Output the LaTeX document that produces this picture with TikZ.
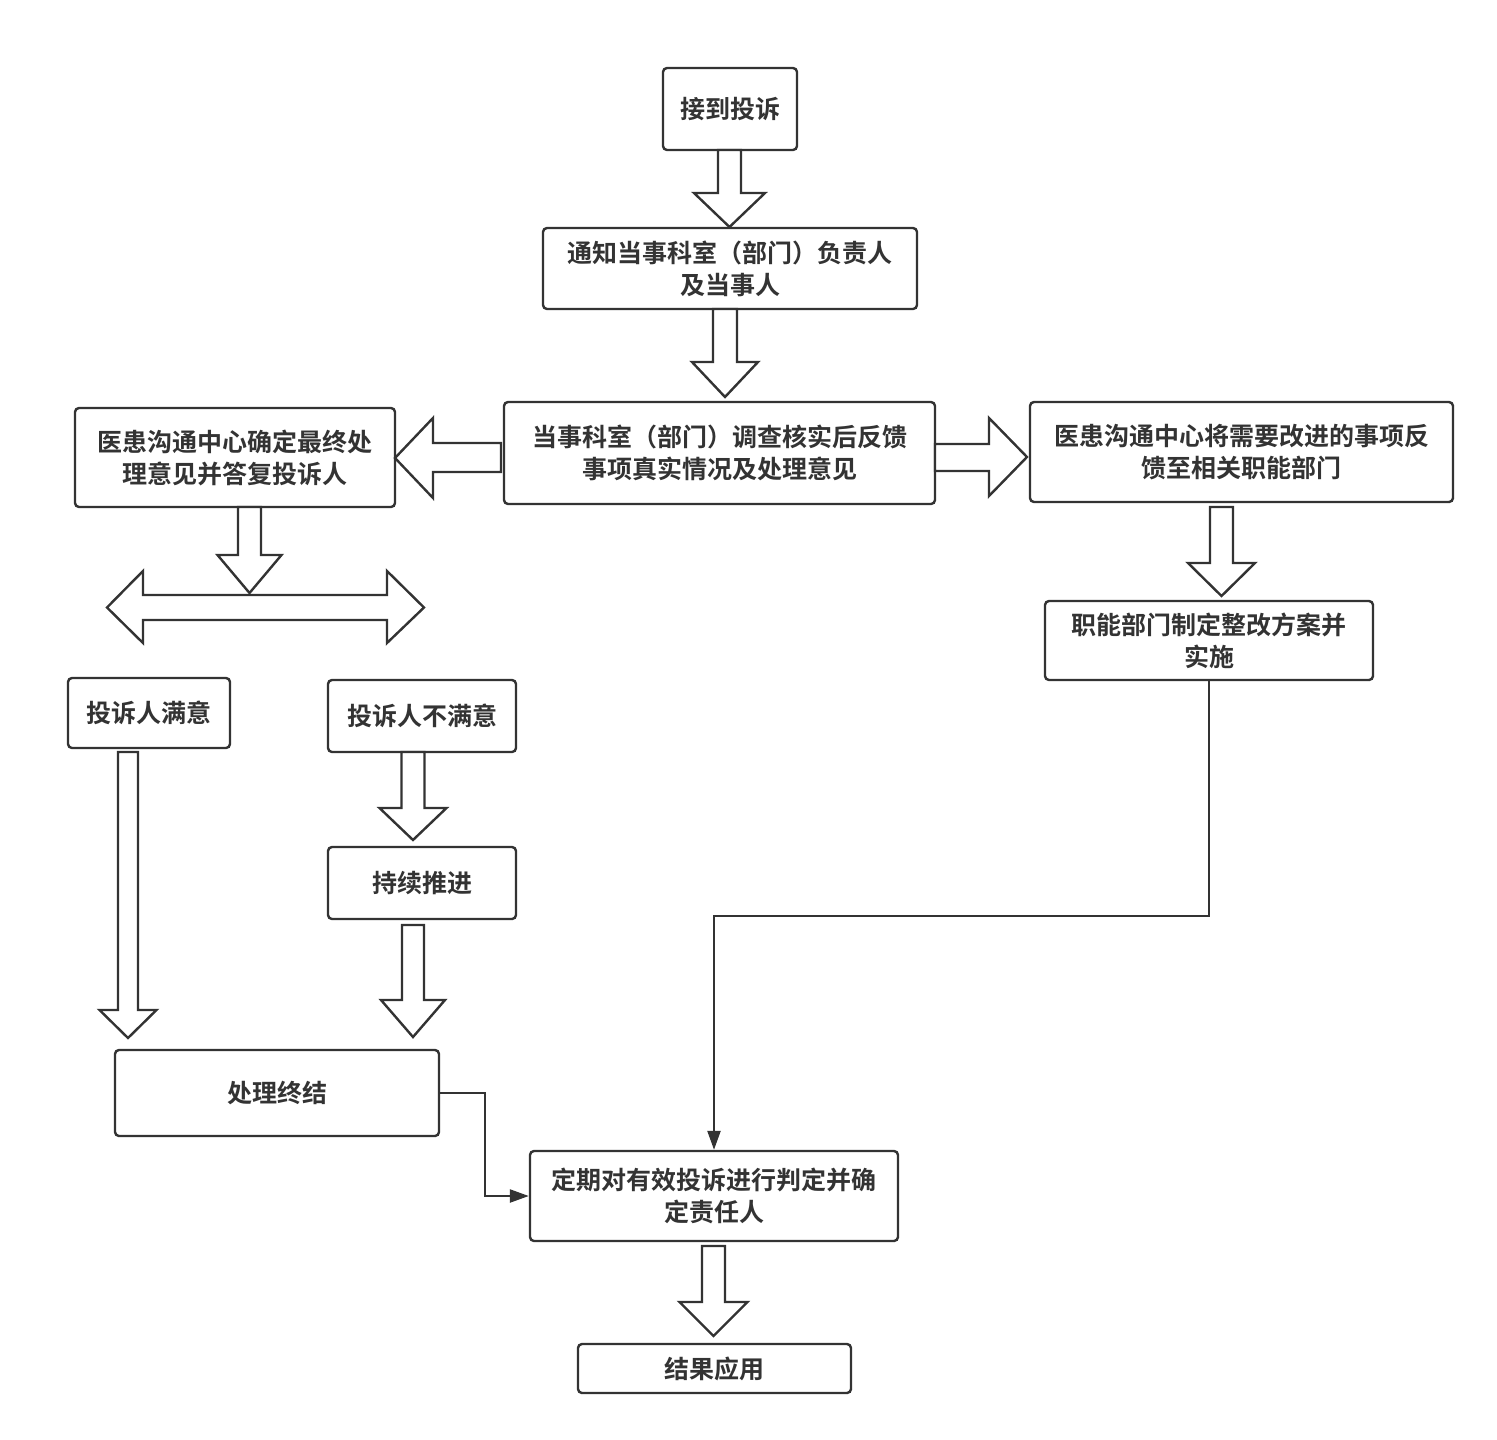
\documentclass[tikz,border=0pt]{standalone}
\usepackage{fontspec}
\setmainfont{Noto Sans CJK SC}[BoldFont={Noto Sans CJK SC Bold}]
\usetikzlibrary{arrows.meta,calc}
\definecolor{ink}{HTML}{333333}
\tikzset{
  box/.style={draw=ink, line width=2.4pt, rounded corners=4pt, inner sep=0pt,
    align=center, text=ink, font=\fontsize{25}{32}\selectfont\bfseries},
  blk/.style={draw=ink, line width=2.4pt, line join=miter, fill=white},
  conn/.style={draw=ink, line width=2.4pt, -{Triangle[length=19pt,width=13pt]}},
}
% down block arrow: x, ytop, yhead, ytip, shaft half width, head half width
\newcommand\dnarr[6]{\draw[blk] (#1-#5,#2) -- (#1-#5,#3) -- (#1-#6,#3) -- (#1,#4) -- (#1+#6,#3) -- (#1+#5,#3) -- (#1+#5,#2) -- cycle;}
\begin{document}
\begin{tikzpicture}[x=1pt,y=-1pt]
\useasboundingbox (0,0) rectangle (1497,1440);

\node[box, minimum width=134pt, minimum height=82pt] (n1) at (730,109) {接到投诉};
\node[box, minimum width=374pt, minimum height=81pt] (n2) at (730,268.5) {通知当事科室（部门）负责人\\及当事人};
\node[box, minimum width=431pt, minimum height=102pt] (n3) at (719.5,453) {当事科室（部门）调查核实后反馈\\事项真实情况及处理意见};
\node[box, minimum width=320pt, minimum height=99pt] (n4) at (235,457.5) {医患沟通中心确定最终处\\理意见并答复投诉人};
\node[box, minimum width=423pt, minimum height=100pt] (n5) at (1241.5,452) {医患沟通中心将需要改进的事项反\\馈至相关职能部门};
\node[box, minimum width=328pt, minimum height=79pt] (n6) at (1209,640.5) {职能部门制定整改方案并\\实施};
\node[box, minimum width=162pt, minimum height=70pt] (n7) at (149,713) {投诉人满意};
\node[box, minimum width=188pt, minimum height=72pt] (n8) at (422,716) {投诉人不满意};
\node[box, minimum width=188pt, minimum height=72pt] (n9) at (422,883) {持续推进};
\node[box, minimum width=324pt, minimum height=86pt] (n10) at (277,1093) {处理终结};
\node[box, minimum width=368pt, minimum height=90pt] (n11) at (714,1196) {定期对有效投诉进行判定并确\\定责任人};
\node[box, minimum width=273pt, minimum height=49pt] (n12) at (714.5,1368.5) {结果应用};

% block arrows
\dnarr{729.5}{150}{193}{227}{11.5}{35.5}
\dnarr{725}{309}{362}{397}{12}{33}
\dnarr{128}{752}{1010}{1038}{10}{28.5}
\dnarr{413}{752}{808}{840}{11.5}{33.5}
\dnarr{413}{925}{1000}{1037}{11}{32}
\dnarr{1221.5}{507}{563}{596}{11.5}{33.5}
\dnarr{713.5}{1246}{1302}{1336}{11.5}{34}

% left arrow
\draw[blk] (501,443) -- (433,443) -- (433,418) -- (395,458) -- (433,498) -- (433,472) -- (501,472) -- cycle;
% right arrow
\draw[blk] (935,444) -- (989,444) -- (989,418) -- (1027,457) -- (989,496) -- (989,471) -- (935,471) -- cycle;
% double arrow
\draw[blk] (143,595) -- (387,595) -- (387,571) -- (424,607.5) -- (387,643) -- (387,620) -- (143,620) -- (143,643) -- (107,607.5) -- (143,571) -- cycle;
\dnarr{249.5}{507}{555}{593}{11.5}{32}

% line connectors
\coordinate (t1) at (714,916);
\draw[conn] (n6.south) |- (t1) -- (n11.north);
\coordinate (t2) at (485,1093);
\draw[conn] (n10.east) -- (t2) |- (n11.west);
\end{tikzpicture}
\end{document}
